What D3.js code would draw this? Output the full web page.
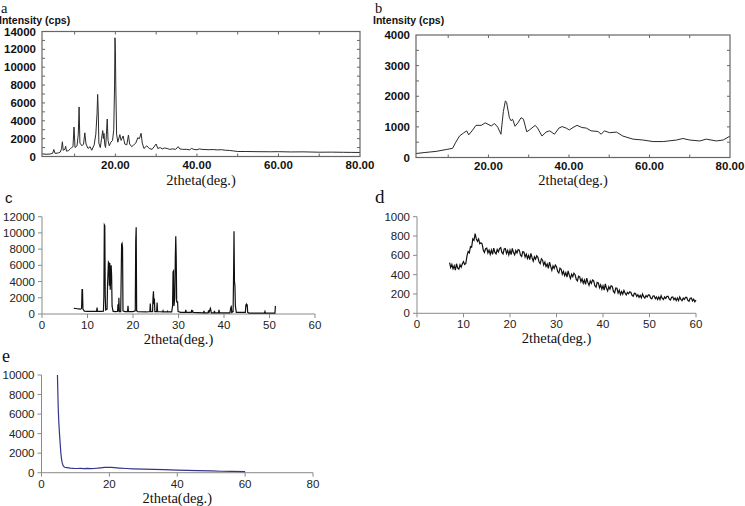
<!DOCTYPE html>
<html><head><meta charset="utf-8">
<script src="https://cdn.jsdelivr.net/npm/d3@7"></script>
<style>body{margin:0;background:#fff}svg{display:block}</style>
</head><body><svg id="chart" width="745" height="506"></svg>
<script>
// ---------- DATA ----------
// panel a : [2theta, intensity]
const scanA = [[2.0,300],[3.0,250],[4.0,280],[4.6,350],[4.9,780],[5.2,350],[6.0,400],[6.5,500],[6.8,900],[7.0,1650],[7.2,700],[7.6,800],[7.8,1150],[8.0,600],[8.5,650],[9.0,900],[9.3,1000],[9.6,1100],[9.85,3300],[10.1,1000],[10.6,1200],[10.9,2500],[11.1,5550],[11.3,1500],[11.8,1200],[12.2,1400],[12.5,2650],[12.8,1400],[13.3,900],[13.8,1100],[14.2,700],[14.8,1300],[15.2,2500],[15.5,4800],[15.65,6950],[15.8,5000],[15.95,1500],[16.3,1000],[16.6,2000],[16.9,2900],[17.05,2000],[17.2,2600],[17.4,1300],[17.6,1000],[17.8,2500],[18.0,4200],[18.2,1800],[18.5,1200],[18.9,1600],[19.3,1800],[19.6,3000],[19.8,8000],[19.9,13300],[20.0,12000],[20.1,8000],[20.3,2500],[20.6,1600],[21.1,2450],[21.4,1800],[21.9,2300],[22.3,1400],[22.8,1300],[23.2,2400],[23.5,1400],[24.0,1100],[24.5,1300],[25.0,1500],[25.5,2100],[25.9,2000],[26.3,2600],[26.6,1500],[27.0,900],[27.7,1200],[28.3,900],[29.0,800],[30.0,1400],[30.4,900],[31.0,1000],[31.5,850],[32.0,950],[32.7,900],[33.3,800],[34.0,850],[34.8,800],[35.4,1100],[35.8,850],[36.5,800],[37.5,800],[38.2,750],[38.7,900],[39.2,800],[40.0,750],[40.6,850],[41.2,800],[42.0,780],[43.0,760],[44.0,780],[45.0,740],[46.0,760],[47.0,700],[48.0,680],[49.0,620],[50.0,560],[52.0,560],[55.0,540],[58.0,530],[60.0,540],[63.0,510],[66.0,520],[70.0,480],[73.0,490],[76.0,470],[78.0,460],[80.0,450]];
// panel b
const scanB = [[2.0,130],[4.0,160],[7.0,200],[9.5,260],[11.1,300],[11.8,480],[12.8,700],[13.8,800],[14.6,870],[15.1,740],[16.1,900],[16.9,1050],[18.2,1050],[19.2,1130],[20.7,1030],[21.5,1110],[22.3,990],[23.1,760],[23.7,1500],[24.2,1850],[24.5,1800],[25.2,1300],[25.6,1200],[26.0,1250],[26.6,1020],[27.3,1130],[28.1,1300],[28.7,1250],[29.5,840],[30.2,900],[31.6,1050],[32.2,960],[33.3,700],[34.3,830],[35.2,870],[36.4,760],[37.5,960],[38.3,1010],[39.3,960],[40.1,900],[41.0,980],[42.0,1050],[43.2,980],[44.3,960],[45.5,870],[47.2,850],[48.0,760],[48.8,870],[50.1,810],[51.8,830],[53.4,700],[55.9,600],[58.4,570],[60.9,520],[63.4,520],[66.7,570],[68.3,620],[70.0,570],[72.5,540],[74.1,600],[76.6,540],[78.3,570],[80.0,700]];
// panel c
const scanC = [[7.0,700],[7.5,680],[8.0,620],[8.5,600],[8.7,700],[8.8,3000],[8.9,3000],[9.0,600],[9.3,350],[10,330],[11,320],[12.0,330],[12.1,800],[12.2,330],[13.0,320],[13.5,350],[13.6,2200],[13.7,11000],[13.8,10900],[13.9,2200],[14.0,500],[14.3,600],[14.4,3500],[14.6,6400],[14.7,6300],[14.8,3500],[14.9,6300],[15.0,3000],[15.2,6000],[15.3,4700],[15.4,1000],[15.6,350],[16.0,300],[16.6,320],[16.7,1200],[16.8,300],[16.9,2000],[17.0,300],[17.3,300],[17.5,8600],[17.6,8700],[17.7,8200],[17.8,400],[18.2,300],[18.8,300],[18.9,1000],[19.0,300],[20.0,300],[20.5,400],[20.6,9000],[20.7,10700],[20.8,400],[21.0,300],[23.0,250],[23.7,300],[23.8,1300],[23.9,300],[24.3,300],[24.4,2000],[24.5,2800],[24.6,1200],[24.7,1900],[24.8,300],[25.2,300],[25.3,1400],[25.4,300],[26.5,250],[26.6,400],[26.7,250],[27.5,250],[27.6,350],[27.7,250],[28.5,250],[28.7,1000],[28.8,5200],[28.9,5300],[29.0,1000],[29.2,2000],[29.3,7000],[29.4,9600],[29.5,7000],[29.6,1500],[29.8,1500],[29.9,300],[30.5,200],[31.5,200],[31.6,500],[31.7,200],[32.8,200],[32.9,500],[33.0,200],[33.1,450],[33.2,200],[35.5,150],[35.6,400],[35.7,150],[36.5,150],[36.6,450],[36.7,150],[37.0,700],[37.1,500],[37.2,150],[37.8,150],[37.9,400],[38.0,150],[38.8,150],[38.9,500],[39.0,150],[41.3,150],[41.5,800],[41.6,900],[41.7,200],[42.0,300],[42.1,4500],[42.2,10200],[42.3,4000],[42.4,3500],[42.5,1000],[42.7,200],[44.7,200],[44.8,1100],[44.9,1200],[45.0,900],[45.1,1200],[45.2,200],[45.5,120],[48.9,120],[49.0,300],[49.1,120],[51.2,120],[51.3,1000]];
// panel d : scan from 7.00 deg, step 0.25 deg
const scanDStart = 7, scanDStep = 0.25;
const scanD = [525,475,505,460, 493,448,513,468, 457,502,477,512, 535,505,515,595, 640,625,690,685, 770,755,825,770, 745,770,720,730, 720,655,630,670, 675,625,655,610, 655,610,675,630, 615,660,635,670, 680,630,615,665, 670,620,650,605, 653,608,673,628, 605,650,625,660, 653,603,588,638, 633,583,613,568, 600,555,620,575, 540,585,560,595, 580,530,515,565, 550,500,530,485, 510,465,530,485, 445,490,465,500, 482,432,417,467, 455,405,435,390, 420,375,440,395, 360,405,380,415, 400,350,335,385, 377,327,357,312, 345,300,365,320, 290,335,310,345, 335,285,270,320, 315,265,295,250, 285,240,305,260, 231,276,251,286, 277,227,212,262, 259,209,239,194, 225,198,237,210, 190,217,202,223, 216,186,177,207, 204,174,192,165, 187,160,199,172, 157,184,169,190, 188,158,149,179, 181,151,169,142, 169,142,181,154, 142,169,154,175, 176,146,137,167, 170,140,158,131, 158,131,170,143, 131,158,143,164, 164,134,125,155, 158,128,146,119, 137];
// panel e
const scanE = [[4.7,10000],[4.8,8500],[4.9,7000],[5.0,6000],[5.1,5200],[5.3,4000],[5.5,3000],[5.7,2000],[5.9,1400],[6.1,1000],[6.4,700],[6.8,560],[7.5,520],[8.5,470],[9.5,440],[10.5,430],[11.5,450],[12.5,420],[13.5,440],[14.5,420],[15.5,430],[16.5,460],[17.5,500],[18.5,540],[19.5,560],[20.5,540],[21.5,510],[23,470],[25,430],[27,400],[30,370],[33,340],[36,310],[40,270],[43,240],[46,210],[50,180],[53,150],[56,130],[60,100]];

const ticksAy = [0,2000,4000,6000,8000,10000,12000,14000];
const ticksBy = [0,1000,2000,3000,4000];
const ticksABx = [20,40,60,80];
const ticksCy = [0,2000,4000,6000,8000,10000,12000];
const ticksCx = [0,10,20,30,40,50,60];
const ticksDy = [0,200,400,600,800,1000];
const ticksDx = [0,10,20,30,40,50,60];
const ticksEy = [0,2000,4000,6000,8000,10000];
const ticksEx = [0,20,40,60,80];
const xTitle = "2theta(deg.)";
const yTitle = "Intensity (cps)";
const panelLetters = ["a","b","c","d","e"];

// ---------- DRAW ----------
const svg = d3.select("#chart");
svg.append("rect").attr("width",745).attr("height",506).attr("fill","#fff");
const SANS = "Arial, 'Liberation Sans', sans-serif";
const SERIF = "'Times New Roman', 'Liberation Serif', serif";

function rigaku(cfg){
  const g = svg.append("g");
  const x = d3.scaleLinear().domain([2,80]).range(cfg.xr);
  const y = d3.scaleLinear().domain(cfg.yd).range(cfg.yr);
  const [x0,x1] = cfg.xr, [y0,y1] = cfg.yr;
  const tk = g.append("g").attr("stroke","#666").attr("stroke-width",1);
  d3.range(10,80,10).forEach(v=>{
    tk.append("line").attr("x1",x(v)).attr("x2",x(v)).attr("y1",y1).attr("y2",y1+3);
    tk.append("line").attr("x1",x(v)).attr("x2",x(v)).attr("y1",y0).attr("y2",y0-3);
  });
  d3.range(cfg.minor, cfg.yd[1], cfg.minor).forEach(v=>{
    tk.append("line").attr("x1",x0).attr("x2",x0+3).attr("y1",y(v)).attr("y2",y(v));
    tk.append("line").attr("x1",x1).attr("x2",x1-3).attr("y1",y(v)).attr("y2",y(v));
  });
  g.append("path").datum(cfg.data)
    .attr("d", d3.line().x(d=>x(d[0])).y(d=>y(d[1])))
    .attr("fill","none").attr("stroke","#2a2a2a").attr("stroke-width",1);
  g.append("rect").attr("x",x0).attr("y",y1).attr("width",x1-x0).attr("height",y0-y1)
    .attr("fill","none").attr("stroke","#666").attr("stroke-width",1.2);
  g.selectAll(".yl").data(cfg.yt).enter().append("text")
    .attr("x",x0-6).attr("y",d=>y(d)+4).attr("text-anchor","end")
    .attr("font-family",SANS).attr("font-weight","bold").attr("font-size",11.5).attr("fill","#111").text(d=>d);
  g.selectAll(".xl").data(ticksABx).enter().append("text")
    .attr("x",d=>x(d)).attr("y",y0+12).attr("text-anchor","middle")
    .attr("font-family",SANS).attr("font-weight","bold").attr("font-size",11.5).attr("fill","#111").text(d=>d.toFixed(2));
  g.append("text").attr("x",x0-43).attr("y",24).attr("font-family",SANS).attr("font-weight","bold")
    .attr("font-size",10.5).attr("fill","#111").text(yTitle);
  g.append("text").attr("x",(x0+x1)/2).attr("y",185).attr("text-anchor","middle")
    .attr("font-family",SERIF).attr("font-size",14.5).attr("fill","#111").text(xTitle);
  g.append("text").attr("x",x0-41).attr("y",12.5).attr("font-family",SERIF).attr("font-size",14.5).attr("fill","#111").text(cfg.letter);
}

function excel(cfg){
  const g = svg.append("g");
  const x = d3.scaleLinear().domain(cfg.xd).range(cfg.xr);
  const y = d3.scaleLinear().domain(cfg.yd).range(cfg.yr);
  const [x0,x1] = cfg.xr, [y0,y1] = cfg.yr;
  const ax = g.append("g").attr("stroke","#8a8a8a").attr("stroke-width",1);
  ax.append("line").attr("x1",x0).attr("x2",x0).attr("y1",y0).attr("y2",y1);
  ax.append("line").attr("x1",x0).attr("x2",x1).attr("y1",y0).attr("y2",y0);
  cfg.yt.forEach(v=>ax.append("line").attr("x1",x0-4).attr("x2",x0).attr("y1",y(v)).attr("y2",y(v)));
  cfg.xt.forEach(v=>ax.append("line").attr("x1",x(v)).attr("x2",x(v)).attr("y1",y0).attr("y2",y0+4));
  g.append("path").datum(cfg.data)
    .attr("d", d3.line().x(d=>x(d[0])).y(d=>y(d[1])))
    .attr("fill","none").attr("stroke",cfg.color).attr("stroke-width",cfg.sw);
  g.selectAll(".yl").data(cfg.yt).enter().append("text")
    .attr("x",x0-7).attr("y",d=>y(d)+4).attr("text-anchor","end")
    .attr("font-family",SANS).attr("font-size",11.5).attr("fill","#222").text(d=>d);
  g.selectAll(".xl").data(cfg.xt).enter().append("text")
    .attr("x",d=>x(d)).attr("y",y0+15).attr("text-anchor","middle")
    .attr("font-family",SANS).attr("font-size",11.5).attr("fill","#222").text(d=>d);
  g.append("text").attr("x",(x0+x1)/2).attr("y",y0+30).attr("text-anchor","middle")
    .attr("font-family",SERIF).attr("font-size",14.5).attr("fill","#111").text(xTitle);
  g.append("text").attr("x",cfg.lx).attr("y",cfg.ly).attr("font-family",cfg.lfont).attr("font-size",cfg.lsize)
    .attr("fill","#111").text(cfg.letter);
}

rigaku({xr:[42,360], yr:[156.5,31.5], yd:[0,14000], yt:ticksAy, minor:1000, data:scanA, letter:panelLetters[0]});
rigaku({xr:[416,730], yr:[157.5,35], yd:[0,4000], yt:ticksBy, minor:500, data:scanB, letter:panelLetters[1]});
excel({xr:[42,315], yr:[314,216.7], xd:[0,60], yd:[0,12000], xt:ticksCx, yt:ticksCy, data:scanC,
  color:"#111", sw:1.2, letter:panelLetters[2], lx:5, ly:203, lfont:SANS, lsize:15});
const scanDPts = scanD.map((v,i)=>[scanDStart+i*scanDStep, v]);
excel({xr:[417,696], yr:[313.3,216.7], xd:[0,60], yd:[0,1000], xt:ticksDx, yt:ticksDy, data:scanDPts,
  color:"#111", sw:1.2, letter:panelLetters[3], lx:375, ly:203, lfont:SERIF, lsize:19});
excel({xr:[41.5,313], yr:[472.7,375], xd:[0,80], yd:[0,10000], xt:ticksEx, yt:ticksEy, data:scanE,
  color:"#35358c", sw:1.2, letter:panelLetters[4], lx:2, ly:362, lfont:SERIF, lsize:18});
</script></body></html>
